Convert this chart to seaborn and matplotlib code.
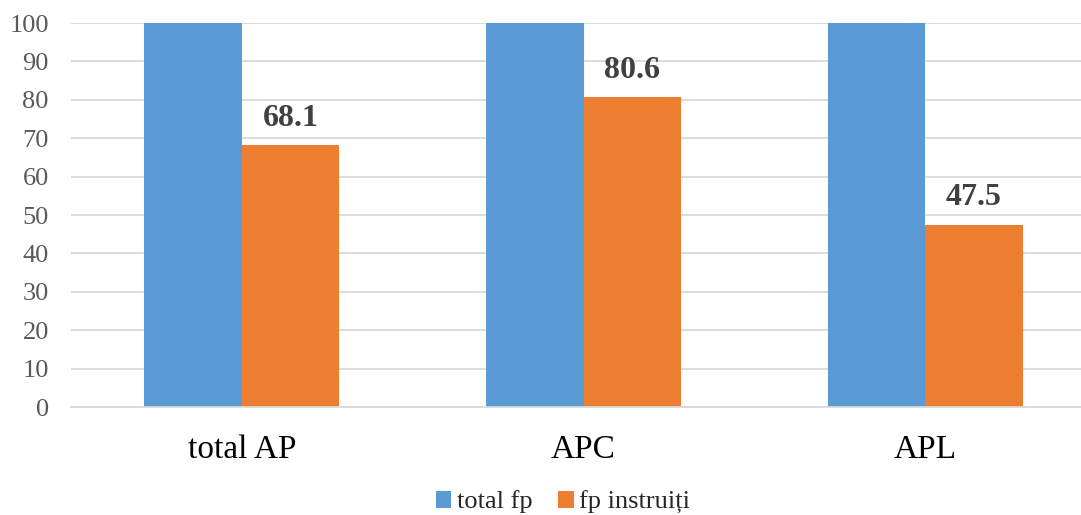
import matplotlib
matplotlib.use("Agg")
import matplotlib.pyplot as plt
import seaborn as sns
import pandas as pd

categories = ["total AP", "APC", "APL"]
series_names = ["total fp", "fp instruiți"]
total_fp = [100, 100, 100]
fp_instruiti = [68.1, 80.6, 47.5]
y_ticks = [0, 10, 20, 30, 40, 50, 60, 70, 80, 90, 100]

df = pd.DataFrame({
    "cat": categories * 2,
    "series": [series_names[0]] * 3 + [series_names[1]] * 3,
    "value": total_fp + fp_instruiti,
})

sns.set_theme(style="white")
plt.rcParams["font.family"] = ["Liberation Serif", "DejaVu Serif"]

fig = plt.figure(figsize=(10.81, 5.15), dpi=100)
ax = fig.add_axes([71 / 1081, 108 / 515, 1 - 71 / 1081, 384 / 515])

palette = {series_names[0]: "#5B9BD5", series_names[1]: "#ED7D31"}
sns.barplot(data=df, x="cat", y="value", hue="series", palette=palette,
            width=0.57, saturation=1, ax=ax, legend=True, zorder=2)

for p in ax.patches:
    p.set_edgecolor("none")

ax.set_ylim(0, 100)
ax.set_xlim(-0.5, 2.456)
ax.set_yticks(y_ticks)
ax.yaxis.grid(True, color="#D9D9D9", linewidth=1.3, zorder=0)
ax.set_axisbelow(True)
for s in ["top", "right", "left"]:
    ax.spines[s].set_visible(False)
ax.spines["bottom"].set_color("#D9D9D9")
ax.spines["bottom"].set_linewidth(1.3)
ax.tick_params(axis="y", length=0, pad=16, labelsize=19, labelcolor="#595959")
ax.tick_params(axis="x", length=0, pad=20, labelsize=24, labelcolor="#000000")
ax.set_xlabel("")
ax.set_ylabel("")

# value labels above the trained-staff bars
orange_container = ax.containers[1]
ax.bar_label(orange_container, labels=[f"{v:.1f}" for v in fp_instruiti],
             padding=9, fontsize=23, fontweight="bold", color="#404040")

handles, labels = ax.get_legend_handles_labels()
ax.legend(handles, labels, loc="center", bbox_to_anchor=(563 / 1081, 13 / 515),
          bbox_transform=fig.transFigure, ncol=2, frameon=False, fontsize=19,
          handlelength=0.6, handleheight=0.6, handletextpad=0.22, columnspacing=0.95)

fig.savefig("out.png", dpi=100)
